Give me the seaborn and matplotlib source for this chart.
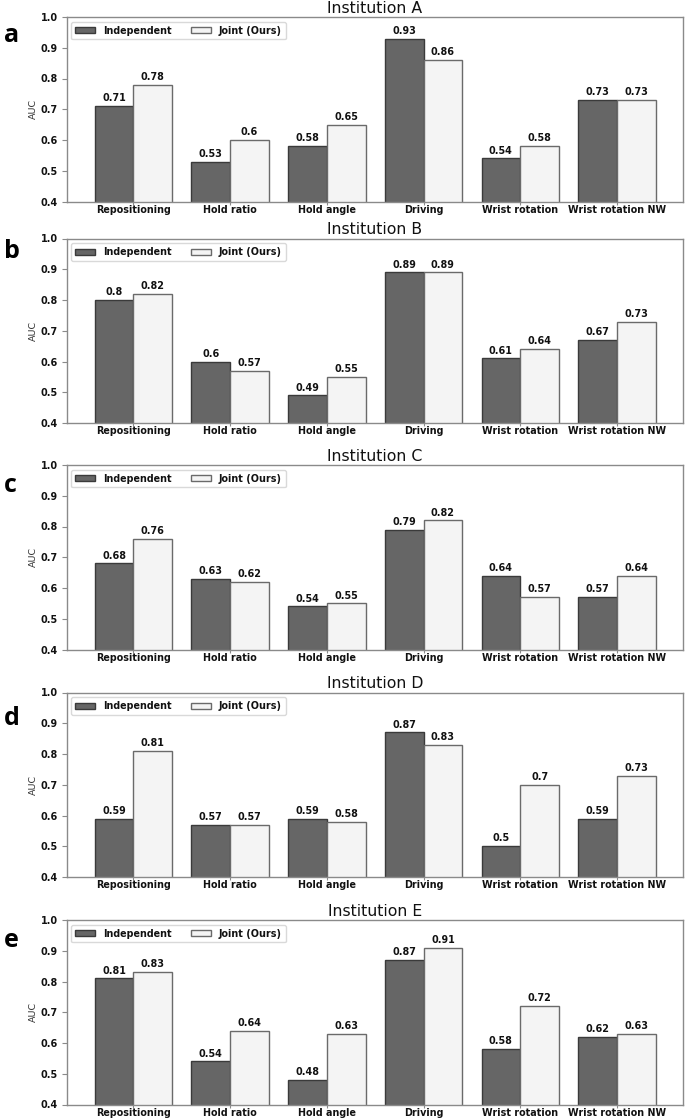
import matplotlib
matplotlib.use("Agg")
import matplotlib.pyplot as plt
import seaborn as sns
import pandas as pd

categories = ["Repositioning", "Hold ratio", "Hold angle", "Driving",
              "Wrist rotation", "Wrist rotation NW"]
methods = ["Independent", "Joint (Ours)"]
institutions = ["Institution A", "Institution B", "Institution C",
                "Institution D", "Institution E"]
panel_letters = ["a", "b", "c", "d", "e"]

indep_A = [0.71, 0.53, 0.58, 0.93, 0.54, 0.73]
joint_A = [0.78, 0.60, 0.65, 0.86, 0.58, 0.73]
indep_B = [0.80, 0.60, 0.49, 0.89, 0.61, 0.67]
joint_B = [0.82, 0.57, 0.55, 0.89, 0.64, 0.73]
indep_C = [0.68, 0.63, 0.54, 0.79, 0.64, 0.57]
joint_C = [0.76, 0.62, 0.55, 0.82, 0.57, 0.64]
indep_D = [0.59, 0.57, 0.59, 0.87, 0.50, 0.59]
joint_D = [0.81, 0.57, 0.58, 0.83, 0.70, 0.73]
indep_E = [0.81, 0.54, 0.48, 0.87, 0.58, 0.62]
joint_E = [0.83, 0.64, 0.63, 0.91, 0.72, 0.63]

yticks = [0.4, 0.5, 0.6, 0.7, 0.8, 0.9, 1.0]
ytick_labels = ["0.4", "0.5", "0.6", "0.7", "0.8", "0.9", "1.0"]

series = [(indep_A, joint_A), (indep_B, joint_B), (indep_C, joint_C),
          (indep_D, joint_D), (indep_E, joint_E)]

sns.set_theme(style="white")
plt.rcParams["font.family"] = ["DejaVu Sans"]
plt.rcParams["axes.edgecolor"] = "#8a8a8a"
plt.rcParams["axes.linewidth"] = 1.0
plt.rcParams["xtick.color"] = "#8a8a8a"
plt.rcParams["ytick.color"] = "#8a8a8a"
plt.rcParams["xtick.bottom"] = True
plt.rcParams["ytick.left"] = True

W, H = 685, 1119
fig = plt.figure(figsize=(W / 100, H / 100), dpi=100)

tops = [17, 238.5, 465, 692.5, 920]
ax_h = 184.5
left_px, right_px = 66.7, 682.7
letter_baselines = [42, 258, 492, 725, 947]

palette = {"Independent": "#666666", "Joint (Ours)": "#f4f4f4"}
edges = {"Independent": "#3a3a3a", "Joint (Ours)": "#6a6a6a"}

for i, (inst, (ind, jnt)) in enumerate(zip(institutions, series)):
    df = pd.DataFrame({
        "Task": categories * 2,
        "Method": [methods[0]] * len(categories) + [methods[1]] * len(categories),
        "AUC": list(ind) + list(jnt),
    })
    top = tops[i]
    ax = fig.add_axes([left_px / W, 1 - (top + ax_h) / H,
                       (right_px - left_px) / W, ax_h / H])
    sns.barplot(data=df, x="Task", y="AUC", hue="Method", order=categories,
                hue_order=methods, palette=palette, ax=ax, width=0.8,
                linewidth=1.0, saturation=1)
    for cont, m in zip(ax.containers, methods):
        for p in cont:
            p.set_edgecolor(edges[m])
        vals = [p.get_height() for p in cont]
        ax.bar_label(cont, labels=[f"{v:g}" for v in vals], padding=2,
                     fontsize=6.9, fontweight="bold", color="#111111")
    ax.set_ylim(0.4, 1.0)
    ax.set_xlim(-0.69, 5.68)
    ax.set_yticks(yticks)
    ax.set_yticklabels(ytick_labels, fontsize=6.9, fontweight="bold",
                       color="#111111")
    ax.set_xticks(range(len(categories)))
    ax.set_xticklabels(categories, fontsize=6.9, fontweight="bold",
                       color="#111111")
    ax.tick_params(axis="x", length=2.0, pad=0.5, width=0.8)
    ax.tick_params(axis="y", length=3.5, pad=3.0, width=0.8)
    ax.set_xlabel("")
    ax.set_ylabel("AUC", fontsize=6.8, color="#333333", labelpad=1.5)
    ax.set_title(inst, fontsize=11.3, pad=3, color="#111111")
    leg = ax.legend(loc="upper left", ncol=2, frameon=True,
                    prop={"size": 6.9, "weight": "bold"},
                    handlelength=2.1, handleheight=0.55,
                    columnspacing=2.0, fancybox=True)
    leg.get_frame().set_edgecolor("#d0d0d0")
    for h, m in zip(leg.legend_handles, methods):
        h.set_edgecolor(edges[m])
        h.set_linewidth(1.0)
    for t in leg.get_texts():
        t.set_color("#111111")
    fig.text(4 / W, 1 - letter_baselines[i] / H, panel_letters[i],
             fontsize=18, fontweight="bold", family=["Open Sans", "DejaVu Sans"],
             ha="left", va="baseline", color="#000000")

fig.savefig("out.png", dpi=100)
